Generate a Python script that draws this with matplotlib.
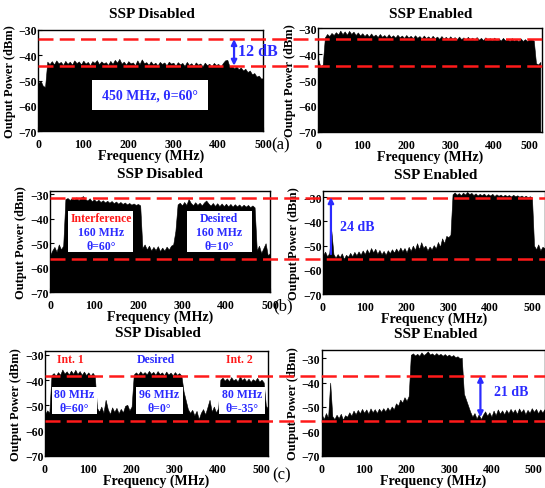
import numpy as np
import matplotlib
matplotlib.use("Agg")
import matplotlib.pyplot as plt
from matplotlib.lines import Line2D
from matplotlib.patches import Rectangle, FancyArrowPatch

plt.rcParams['font.family'] = ['Liberation Serif', 'DejaVu Serif']
plt.rcParams['font.weight'] = 'bold'
plt.rcParams['axes.labelweight'] = 'bold'

# spectrum top envelope (dBm), one value every 5 MHz starting at 0 MHz
a_off = [-51.0, -50.0, -52.0, -52.5, -42.5, -43.5, -42.3, -43.6, -42.0, -43.2,
         -42.6, -43.8, -42.2, -43.4, -42.5, -43.7, -42.0, -43.1, -42.4, -43.6,
         -42.1, -43.3, -42.6, -43.9, -42.3, -43.0, -41.9, -43.5, -42.4, -43.2,
         -42.7, -43.8, -42.2, -43.4, -41.8, -42.9, -41.4, -43.3, -42.5, -43.7,
         -42.3, -43.2, -42.8, -43.9, -42.0, -43.5, -41.6, -43.1, -42.7, -43.8,
         -42.4, -43.6, -42.9, -44.0, -42.6, -43.4, -42.8, -44.0, -42.5, -43.3,
         -42.9, -44.1, -42.7, -43.6, -43.0, -44.2, -42.6, -43.8, -43.1, -44.3,
         -42.8, -43.7, -43.2, -44.4, -42.9, -43.9, -43.3, -44.5, -43.0, -43.8,
         -43.4, -44.6, -43.1, -42.0, -41.8, -44.5, -44.0, -45.2, -44.3, -45.5,
         -44.8, -46.0, -45.3, -46.6, -46.0, -47.5, -47.0, -48.4, -48.0, -49.2,
         -49.0]
a_on = [-42.0, -45.0, -44.0, -33.5, -32.2, -33.0, -31.8, -32.6, -31.5, -32.4,
        -30.9, -32.3, -31.2, -32.5, -31.0, -32.2, -31.3, -32.6, -31.6, -32.8,
        -31.9, -33.0, -32.1, -33.2, -32.0, -33.1, -32.4, -33.4, -32.2, -33.3,
        -32.6, -33.5, -32.3, -33.4, -32.7, -33.6, -32.5, -33.5, -32.8, -33.7,
        -32.6, -33.6, -32.9, -33.8, -32.7, -33.7, -33.0, -33.9, -32.8, -33.8,
        -33.1, -34.0, -32.9, -33.9, -33.2, -34.1, -33.0, -34.0, -33.3, -34.2,
        -33.1, -34.1, -33.4, -34.3, -33.2, -34.2, -33.5, -34.4, -33.3, -34.3,
        -33.6, -34.5, -33.4, -34.4, -33.7, -34.6, -33.5, -34.5, -33.8, -34.7,
        -33.6, -34.6, -33.9, -34.8, -33.7, -34.7, -34.0, -34.9, -33.8, -34.8,
        -34.1, -35.0, -33.9, -34.9, -34.2, -35.0, -34.0, -34.3, -34.8, -43.5,
        -44.0, -43.0]
b_off = [-55.0, -53.0, -51.5, -53.5, -50.5, -52.5, -51.0, -32.0, -31.6, -32.4,
         -31.5, -32.2, -31.3, -32.5, -31.4, -30.8, -32.0, -32.6, -31.7, -32.9,
         -32.1, -33.0, -32.3, -33.2, -32.5, -33.4, -32.7, -33.5, -32.8, -33.7,
         -33.0, -33.9, -33.2, -34.0, -33.4, -34.2, -33.6, -34.3, -33.8, -34.4,
         -34.0, -34.6, -52.0, -50.5, -52.5, -51.0, -53.0, -51.5, -52.8, -51.2,
         -53.2, -51.8, -53.0, -51.4, -52.6, -51.0, -50.5, -45.0, -34.2, -33.5,
         -34.6, -33.2, -34.4, -32.0, -33.6, -34.5, -33.3, -34.4, -33.5, -34.6,
         -33.4, -32.6, -33.8, -34.7, -33.6, -34.8, -33.7, -34.9, -33.8, -34.9,
         -33.9, -35.0, -34.0, -35.1, -34.1, -35.0, -34.2, -35.2, -34.3, -35.1,
         -34.4, -35.3, -34.6, -35.4, -53.0, -51.0, -54.0, -52.0, -50.0, -55.0,
         -54.0]
b_on = [-54.0, -52.5, -54.5, -53.0, -44.0, -53.5, -55.0, -53.5, -54.8, -53.2,
        -55.5, -53.8, -54.6, -53.0, -54.4, -52.6, -54.0, -52.4, -53.8, -52.0,
        -53.5, -51.5, -53.2, -51.0, -52.8, -51.3, -53.4, -51.8, -53.6, -52.2,
        -53.8, -51.9, -53.1, -51.5, -52.9, -51.2, -52.6, -50.8, -52.4, -51.0,
        -52.8, -50.5, -52.2, -50.0, -51.8, -49.0, -51.5, -48.6, -51.0, -50.0,
        -52.0, -50.4, -51.6, -49.8, -51.2, -48.5, -50.5, -47.0, -49.0, -46.0,
        -46.5, -45.5, -28.8, -28.0, -29.0, -28.3, -29.2, -28.1, -28.9, -27.8,
        -28.7, -28.2, -29.1, -28.4, -29.3, -28.6, -29.2, -28.5, -29.4, -28.7,
        -29.3, -28.6, -29.5, -28.8, -29.4, -28.9, -29.6, -29.0, -29.5, -29.1,
        -29.7, -29.0, -29.6, -29.2, -29.8, -29.3, -29.9, -29.4, -30.0, -29.6,
        -30.1, -50.0, -51.5, -49.5, -52.0, -50.5, -51.0]
c_off = [-53.5, -52.0, -53.0, -38.0, -37.2, -38.3, -36.8, -37.9, -35.8, -37.4,
         -36.5, -37.8, -36.2, -37.5, -35.9, -37.6, -36.4, -37.9, -36.6, -38.0,
         -36.9, -38.2, -37.1, -38.3, -51.0, -52.5, -50.5, -53.0, -47.8, -51.5,
         -53.5, -50.8, -52.6, -51.0, -53.2, -51.4, -52.8, -50.2, -49.8, -52.0,
         -50.5, -37.8, -36.9, -37.8, -36.5, -37.6, -36.8, -37.7, -36.3, -37.5,
         -36.7, -37.9, -36.4, -37.6, -36.9, -38.0, -36.6, -37.8, -37.0, -38.1,
         -36.8, -37.9, -37.2, -38.2, -44.5, -48.0, -51.5, -53.0, -51.8, -54.0,
         -52.2, -55.5, -53.0, -51.5, -53.6, -50.8, -47.8, -52.5, -50.5, -52.8,
         -51.0, -39.8, -39.0, -40.2, -39.3, -40.4, -38.8, -40.1, -39.5, -40.6,
         -38.4, -40.0, -39.2, -40.5, -39.4, -40.7, -39.6, -40.3, -39.1, -40.6,
         -39.8, -40.9, -50.0, -51.5]
c_on = [-53.0, -55.0, -52.5, -54.5, -40.0, -53.8, -55.0, -53.2, -54.6, -52.8,
        -55.2, -53.4, -54.0, -52.2, -53.6, -51.5, -53.0, -51.2, -52.6, -50.8,
        -52.4, -51.0, -52.8, -50.6, -52.2, -50.9, -52.5, -50.7, -52.0, -50.5,
        -51.8, -50.2, -51.5, -49.8, -51.0, -48.5, -49.5, -47.0, -48.2, -46.0,
        -47.5, -45.5, -28.6, -28.0, -28.9, -28.2, -29.0, -27.6, -28.7, -28.1,
        -27.2, -28.5, -28.0, -28.8, -27.9, -28.7, -28.2, -29.0, -28.3, -29.1,
        -28.5, -29.3, -28.7, -29.6, -29.2, -30.0, -29.8, -44.5, -47.0, -49.5,
        -52.0, -54.0, -52.5, -54.8, -53.0, -55.0, -53.2, -51.8, -53.6, -52.2,
        -54.0, -51.5, -53.4, -51.0, -52.8, -51.4, -53.0, -51.2, -52.6, -50.8,
        -52.4, -51.0, -52.9, -50.6, -52.2, -50.9, -53.0, -51.2, -52.4, -50.5,
        -52.0, -50.8, -52.6, -51.0, -52.3, -50.9]

# reference levels (red dashed), dBm on the left panel of each row
ref_a = [-33.6, -44.1]
ref_b = [-31.4, -56.3]
ref_c = [-38.4, -56.1]

W, H = 545, 489
fig = plt.figure(figsize=(W / 100, H / 100), dpi=100)


def box(l, r, t, b):
    return [l / W, 1 - b / H, (r - l) / W, (b - t) / H]


def fx(x, y):
    return x / W, 1 - y / H


panels = [
    (box(38.3, 263.3, 31, 132.3), a_off, (0, 500), (-70, -30)),
    (box(318.3, 541.7, 29.3, 132.7), a_on, (0, 508), (-70, -30)),
    (box(50, 270, 191.7, 293.3), b_off, (0, 500), (-70, -28.6)),
    (box(323, 544.5, 191.7, 295), b_on, (0, 530), (-70, -27.3)),
    (box(45, 268, 351.7, 456.7), c_off, (0, 515), (-70, -28.3)),
    (box(321.7, 544.5, 350.7, 456.7), c_on, (0, 525), (-70, -26.5)),
]

axes = []
for rect, lvl, xl, yl in panels:
    ax = fig.add_axes(rect)
    freq = 5 * np.arange(len(lvl))
    ax.fill_between(freq, -70, lvl, color='black', lw=0.4)
    ax.set_xlim(*xl)
    ax.set_ylim(*yl)
    ax.set_xticks([0, 100, 200, 300, 400, 500])
    ax.set_yticks([-30, -40, -50, -60, -70])
    ax.tick_params(direction='in', length=3, labelsize=8.5, pad=1)
    ax.tick_params(axis='x', pad=5)
    ax.set_xlabel('Frequency (MHz)', fontsize=10, labelpad=-1)
    ax.set_ylabel('Output Power (dBm)', fontsize=9, labelpad=2)
    for s in ax.spines.values():
        s.set_linewidth(1.0)
    axes.append(ax)

# keep the last label of the top-right panel inside the picture
axes[1].get_xticklabels()[-1].set_horizontalalignment('right')


def to_fig(ax, x, y):
    return fig.transFigure.inverted().transform(ax.transData.transform((x, y)))


red = '#ff1a1a'
blue = '#2b2bff'

# dashed reference lines spanning both panels of a row
for (al, ar), levels in [((axes[0], axes[1]), ref_a), ((axes[2], axes[3]), ref_b),
                         ((axes[4], axes[5]), ref_c)]:
    for lv in levels:
        x0, y0 = to_fig(al, al.get_xlim()[0], lv)
        x1 = ar.get_position().x1
        fig.add_artist(Line2D([x0, x1], [y0, y0], color=red, lw=1.8,
                              dashes=(6, 2.5), transform=fig.transFigure))

# titles
for (x, y), t in [((151.7, 14), 'SSP Disabled'), ((430.8, 14), 'SSP Enabled'),
                  ((160, 175), 'SSP Disabled'), ((436, 175.7), 'SSP Enabled'),
                  ((157.5, 333.3), 'SSP Disabled'), ((436, 334), 'SSP Enabled')]:
    fig.text(*fx(x, y), t, ha='center', va='center', fontsize=11)

# panel letters
for (x, y), t in [((281, 145), '(a)'), ((283, 306), '(b)'), ((282, 475), '(c)')]:
    fig.text(*fx(x, y), t, ha='center', va='center', fontsize=12, fontweight='normal')


def white_box(l, r, t, b):
    x0, y1 = fx(l, t)
    x1, y0 = fx(r, b)
    fig.add_artist(Rectangle((x0, y0), x1 - x0, y1 - y0, facecolor='white',
                             edgecolor='none', transform=fig.transFigure, zorder=3))


def label(x, y, s, c, size):
    fig.text(*fx(x, y), s, ha='center', va='center', color=c, fontsize=size, zorder=4)


def arrow(ax, x, y0, y1, style):
    p0 = to_fig(ax, x, y0)
    p1 = to_fig(ax, x, y1)
    fig.add_artist(FancyArrowPatch(p0, p1, arrowstyle=style, mutation_scale=8,
                                   color=blue, lw=1.6, shrinkA=0, shrinkB=0,
                                   transform=fig.transFigure, zorder=5))


# row (a)
white_box(91.7, 208.3, 81, 111)
label(150, 96, '450 MHz, θ=60°', blue, 10)
arrow(axes[0], 435, ref_a[0], ref_a[1], '<|-|>')
fig.text(*fx(238, 52), '12 dB', ha='left', va='center', color=blue, fontsize=11.5)

# row (b)
white_box(68.3, 133.3, 211.7, 253.3)
label(100.8, 219.3, 'Interference', red, 8.5)
label(100.8, 232.7, '160 MHz', blue, 8.5)
label(100.8, 247.3, 'θ=60°', blue, 8.5)
white_box(186.7, 251.7, 211.7, 253.3)
label(219.2, 219.3, 'Desired', blue, 8.5)
label(219.2, 232.7, '160 MHz', blue, 8.5)
label(219.2, 247.3, 'θ=10°', blue, 8.5)
arrow(axes[3], 19, -53.5, -30, '-|>')
fig.text(*fx(340, 228), '24 dB', ha='left', va='center', color=blue, fontsize=10)

# row (c)
label(70.7, 360, 'Int. 1', red, 8.5)
label(156, 360, 'Desired', blue, 8.5)
label(239, 360, 'Int. 2', red, 8.5)
for l, r, top, bot in [(51.7, 96.7, '80 MHz', 'θ=60°'), (136, 182.7, '96 MHz', 'θ=0°'),
                       (219.3, 265, '80 MHz', 'θ=-35°')]:
    white_box(l, r, 388.3, 415)
    label((l + r) / 2, 395, top, blue, 8.5)
    label((l + r) / 2, 409.3, bot, blue, 8.5)
arrow(axes[5], 374, -37.2, -54.2, '<|-|>')
fig.text(*fx(494, 392.3), '21 dB', ha='left', va='center', color=blue, fontsize=10)

fig.savefig('out.png', dpi=100)
